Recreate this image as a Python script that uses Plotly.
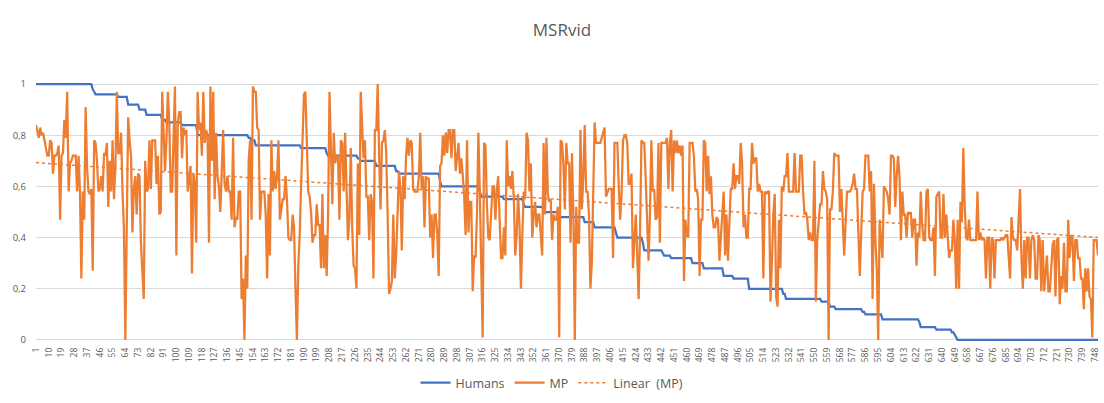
import numpy as np
import plotly.graph_objects as go

# ---- data -------------------------------------------------------------
chart_title = "MSRvid"
series_names = ["Humans", "MP", "Linear\u00a0 (MP)"]

# Human gold scores (sorted, descending): level and how many pairs share it
human_levels = [1.00, 0.98, 0.97, 0.96, 0.95, 0.92, 0.90, 0.88, 0.86, 0.85,
                0.84, 0.80, 0.79, 0.78, 0.76, 0.75, 0.73, 0.72, 0.71, 0.70,
                0.68, 0.66, 0.65, 0.62, 0.60, 0.58, 0.56, 0.55, 0.53, 0.52,
                0.51, 0.50, 0.49, 0.48, 0.46, 0.44, 0.42, 0.40, 0.38, 0.35,
                0.34, 0.33, 0.32, 0.30, 0.28, 0.25, 0.24, 0.20, 0.18, 0.16,
                0.15, 0.13, 0.12, 0.11, 0.10, 0.08, 0.07, 0.05, 0.04, 0.03,
                0.02, 0.01, 0.00]
human_counts = [40, 1, 1, 16, 7, 8, 5, 11, 3, 11,
                11, 36, 2, 3, 32, 18, 1, 21, 2, 11,
                14, 2, 29, 1, 27, 1, 16, 14, 1, 13,
                1, 10, 1, 17, 7, 15, 1, 18, 1, 13,
                1, 5, 15, 8, 14, 7, 11, 24, 2, 25,
                6, 4, 19, 2, 12, 26, 1, 11, 11, 2,
                1, 1, 100]

# MP similarity score for each sentence pair, in the same order
mp_scores = [
    0.84, 0.82, 0.79, 0.83, 0.80, 0.81, 0.78, 0.76, 0.72, 0.72,
    0.78, 0.77, 0.65, 0.72, 0.72, 0.73, 0.76, 0.47, 0.72, 0.73,
    0.86, 0.79, 0.97, 0.58, 0.69, 0.70, 0.72, 0.72, 0.72, 0.58,
    0.72, 0.58, 0.24, 0.58, 0.47, 0.91, 0.68, 0.58, 0.57, 0.59,
    0.27, 0.78, 0.77, 0.70, 0.58, 0.59, 0.64, 0.58, 0.73, 0.72,
    0.77, 0.52, 0.70, 0.58, 0.78, 0.55, 0.68, 0.97, 0.73, 0.73,
    0.81, 0.58, 0.44, 0.00, 0.39, 0.87, 0.78, 0.72, 0.42, 0.59,
    0.64, 0.49, 0.65, 0.64, 0.38, 0.28, 0.16, 0.70, 0.58, 0.59,
    0.78, 0.59, 0.78, 0.78, 0.78, 0.61, 0.72, 0.49, 0.50, 0.97,
    0.77, 0.66, 0.78, 0.97, 0.85, 0.58, 0.58, 0.85, 0.99, 0.33,
    0.85, 0.89, 0.89, 0.71, 0.83, 0.80, 0.82, 0.58, 0.62, 0.68,
    0.26, 0.65, 0.61, 0.38, 0.97, 0.82, 0.85, 0.72, 0.97, 0.77,
    0.82, 0.80, 0.38, 0.99, 0.70, 0.97, 0.55, 0.81, 0.64, 0.60,
    0.50, 0.68, 0.82, 0.61, 0.58, 0.64, 0.58, 0.58, 0.47, 0.79,
    0.44, 0.48, 0.47, 0.58, 0.58, 0.16, 0.24, 0.00, 0.33, 0.20,
    0.70, 0.78, 0.47, 0.99, 0.97, 0.97, 0.83, 0.82, 0.47, 0.58,
    0.58, 0.58, 0.49, 0.24, 0.57, 0.33, 0.78, 0.58, 0.66, 0.59,
    0.64, 0.78, 0.47, 0.51, 0.55, 0.55, 0.64, 0.55, 0.40, 0.39,
    0.39, 0.49, 0.44, 0.20, 0.00, 0.29, 0.41, 0.61, 0.83, 0.96,
    0.97, 0.77, 0.58, 0.56, 0.50, 0.38, 0.41, 0.41, 0.53, 0.45,
    0.45, 0.28, 0.57, 0.28, 0.41, 0.25, 0.49, 0.97, 0.71, 0.53,
    0.81, 0.69, 0.72, 0.72, 0.47, 0.78, 0.77, 0.58, 0.81, 0.59,
    0.39, 0.47, 0.75, 0.44, 0.29, 0.28, 0.20, 0.69, 0.41, 0.97,
    0.84, 0.71, 0.78, 0.56, 0.56, 0.39, 0.57, 0.54, 0.24, 0.82,
    0.82, 1.00, 0.72, 0.51, 0.77, 0.78, 0.82, 0.73, 0.49, 0.18,
    0.20, 0.23, 0.49, 0.24, 0.33, 0.55, 0.66, 0.59, 0.35, 0.64,
    0.55, 0.72, 0.79, 0.72, 0.78, 0.77, 0.59, 0.58, 0.58, 0.58,
    0.64, 0.81, 0.59, 0.64, 0.44, 0.64, 0.63, 0.63, 0.40, 0.49,
    0.32, 0.49, 0.49, 0.41, 0.25, 0.68, 0.69, 0.80, 0.72, 0.81,
    0.73, 0.82, 0.82, 0.71, 0.82, 0.82, 0.66, 0.72, 0.77, 0.65,
    0.71, 0.64, 0.56, 0.41, 0.78, 0.42, 0.54, 0.54, 0.19, 0.33,
    0.32, 0.49, 0.81, 0.58, 0.33, 0.01, 0.77, 0.76, 0.53, 0.40,
    0.39, 0.49, 0.60, 0.60, 0.47, 0.59, 0.64, 0.47, 0.32, 0.32,
    0.44, 0.33, 0.78, 0.60, 0.64, 0.59, 0.66, 0.55, 0.33, 0.41,
    0.57, 0.45, 0.20, 0.41, 0.58, 0.55, 0.81, 0.78, 0.58, 0.69,
    0.40, 0.49, 0.54, 0.44, 0.49, 0.49, 0.39, 0.33, 0.77, 0.49,
    0.79, 0.57, 0.54, 0.55, 0.39, 0.49, 0.47, 0.47, 0.52, 0.01,
    0.78, 0.77, 0.68, 0.51, 0.77, 0.69, 0.69, 0.38, 0.73, 0.49,
    0.00, 0.52, 0.38, 0.38, 0.82, 0.51, 0.64, 0.84, 0.58, 0.58,
    0.49, 0.20, 0.30, 0.61, 0.85, 0.77, 0.77, 0.77, 0.77, 0.79,
    0.81, 0.83, 0.56, 0.58, 0.59, 0.59, 0.59, 0.32, 0.77, 0.77,
    0.77, 0.60, 0.47, 0.57, 0.78, 0.80, 0.80, 0.77, 0.61, 0.61,
    0.65, 0.28, 0.42, 0.49, 0.34, 0.16, 0.41, 0.78, 0.77, 0.77,
    0.63, 0.49, 0.31, 0.49, 0.78, 0.58, 0.59, 0.47, 0.48, 0.77,
    0.38, 0.77, 0.77, 0.77, 0.77, 0.79, 0.59, 0.77, 0.82, 0.58,
    0.78, 0.73, 0.78, 0.73, 0.76, 0.72, 0.76, 0.23, 0.47, 0.41,
    0.40, 0.77, 0.77, 0.77, 0.72, 0.58, 0.59, 0.55, 0.25, 0.47,
    0.47, 0.78, 0.77, 0.58, 0.72, 0.57, 0.64, 0.49, 0.44, 0.44,
    0.48, 0.47, 0.31, 0.39, 0.49, 0.58, 0.33, 0.49, 0.31, 0.49,
    0.59, 0.59, 0.69, 0.59, 0.64, 0.64, 0.61, 0.77, 0.69, 0.44,
    0.49, 0.40, 0.40, 0.59, 0.59, 0.77, 0.69, 0.71, 0.71, 0.58,
    0.61, 0.58, 0.58, 0.24, 0.58, 0.57, 0.58, 0.58, 0.15, 0.30,
    0.49, 0.57, 0.17, 0.13, 0.47, 0.28, 0.60, 0.58, 0.64, 0.64,
    0.73, 0.58, 0.58, 0.58, 0.58, 0.73, 0.58, 0.58, 0.58, 0.72,
    0.72, 0.58, 0.49, 0.50, 0.47, 0.39, 0.42, 0.39, 0.39, 0.70,
    0.15, 0.39, 0.46, 0.53, 0.53, 0.66, 0.59, 0.58, 0.55, 0.00,
    0.51, 0.51, 0.58, 0.73, 0.72, 0.72, 0.72, 0.50, 0.59, 0.46,
    0.33, 0.46, 0.58, 0.58, 0.58, 0.59, 0.61, 0.65, 0.59, 0.59,
    0.40, 0.25, 0.42, 0.58, 0.59, 0.72, 0.72, 0.72, 0.58, 0.66,
    0.16, 0.61, 0.39, 0.27, 0.00, 0.47, 0.39, 0.32, 0.60, 0.59,
    0.58, 0.55, 0.49, 0.72, 0.72, 0.71, 0.52, 0.64, 0.72, 0.64,
    0.39, 0.58, 0.49, 0.49, 0.40, 0.50, 0.49, 0.50, 0.40, 0.47,
    0.47, 0.29, 0.42, 0.40, 0.58, 0.45, 0.39, 0.39, 0.58, 0.59,
    0.40, 0.39, 0.39, 0.44, 0.25, 0.56, 0.57, 0.58, 0.40, 0.40,
    0.57, 0.40, 0.49, 0.40, 0.32, 0.35, 0.35, 0.47, 0.39, 0.20,
    0.47, 0.20, 0.54, 0.46, 0.75, 0.52, 0.40, 0.39, 0.47, 0.39,
    0.39, 0.39, 0.39, 0.39, 0.58, 0.39, 0.42, 0.39, 0.40, 0.39,
    0.24, 0.40, 0.40, 0.20, 0.40, 0.39, 0.24, 0.39, 0.39, 0.39,
    0.39, 0.40, 0.39, 0.40, 0.41, 0.41, 0.32, 0.24, 0.48, 0.40,
    0.39, 0.39, 0.35, 0.49, 0.59, 0.32, 0.20, 0.39, 0.24, 0.40,
    0.40, 0.24, 0.39, 0.41, 0.39, 0.24, 0.24, 0.41, 0.39, 0.19,
    0.39, 0.19, 0.25, 0.33, 0.19, 0.19, 0.28, 0.37, 0.39, 0.17,
    0.39, 0.40, 0.14, 0.25, 0.20, 0.38, 0.19, 0.19, 0.47, 0.32,
    0.41, 0.40, 0.23, 0.39, 0.39, 0.32, 0.32, 0.24, 0.24, 0.12,
    0.28, 0.19, 0.28, 0.17, 0.16, 0.01, 0.39, 0.39, 0.39, 0.33,
]

y_tick_values = [0, 0.2, 0.4, 0.6, 0.8, 1]
y_tick_labels = ["0", "0,2", "0,4", "0,6", "0,8", "1"]
x_label_step = 9

# ---- derived series -----------------------------------------------------
n_pairs = len(mp_scores)
pair_index = np.arange(1, n_pairs + 1)
human_scores = np.repeat(human_levels, human_counts)[:n_pairs]

# least-squares linear trend of the MP scores
slope, intercept = np.polyfit(pair_index, mp_scores, 1)
mp_trend = intercept + slope * pair_index

x_tick_values = pair_index[::x_label_step]

BLUE = "#4472C4"
ORANGE = "#ED7D31"
TEXT = "#595959"
GRID = "#D9D9D9"
FONT = "Open Sans"

fig = go.Figure()
fig.add_trace(go.Scatter(
    x=pair_index, y=human_scores, mode="lines", name=series_names[0],
    line=dict(color=BLUE, width=2.25),
))
fig.add_trace(go.Scatter(
    x=pair_index, y=mp_scores, mode="lines", name=series_names[1],
    line=dict(color=ORANGE, width=2.25),
))
fig.add_trace(go.Scatter(
    x=pair_index, y=mp_trend, mode="lines", name=series_names[2],
    line=dict(color=ORANGE, width=1.5, dash="dot"),
))

fig.update_layout(
    width=1104, height=403, autosize=False,
    paper_bgcolor="white", plot_bgcolor="white",
    margin=dict(l=36, r=4, t=81, b=60),
    font=dict(family=FONT, color=TEXT),
    title=dict(
        text=chart_title, x=0.509, xref="container", xanchor="center",
        y=1 - 30 / 403, yref="container", yanchor="middle",
        font=dict(size=17, color=TEXT, family=FONT),
    ),
    showlegend=True,
    legend=dict(
        orientation="h", x=0.5, xanchor="center", xref="container",
        y=1 - 383 / 403, yanchor="middle", yref="container",
        font=dict(size=12.5, color=TEXT, family=FONT),
        bgcolor="rgba(0,0,0,0)",
    ),
    xaxis=dict(
        range=[1, n_pairs], showgrid=False, zeroline=False, showline=False,
        tickmode="array", tickvals=x_tick_values,
        ticktext=[str(v) for v in x_tick_values],
        tickangle=-90, ticks="", ticklabelstandoff=2,
        tickfont=dict(size=8.5, color=TEXT, family=FONT),
    ),
    yaxis=dict(
        range=[-0.012, 1.012], showgrid=True, gridcolor=GRID, gridwidth=1,
        zeroline=False, showline=False,
        tickmode="array", tickvals=y_tick_values, ticktext=y_tick_labels,
        ticks="", ticklabelstandoff=9,
        tickfont=dict(size=9.5, color=TEXT, family=FONT),
    ),
)

fig.write_html("out.html")
